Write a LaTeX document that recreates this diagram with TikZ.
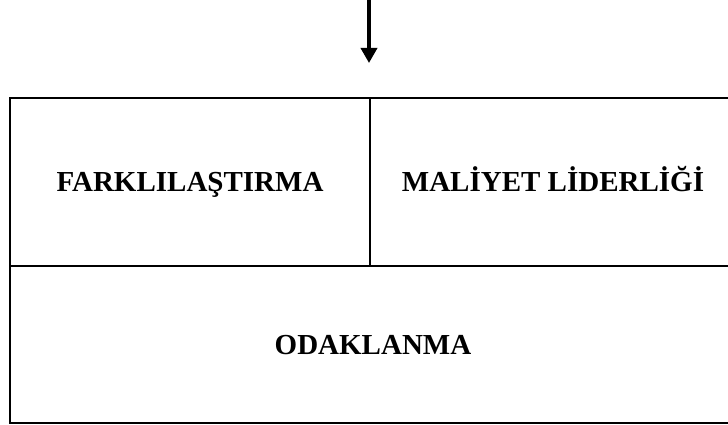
\documentclass[tikz,border=0pt]{standalone}
\usepackage{fontspec}
\setmainfont{Liberation Serif}
\usetikzlibrary{arrows.meta}
\tikzstyle{arrow} = [line width=3.5pt,-{Triangle[width=16pt,length=15pt]}]
\tikzstyle{cell} = [rectangle, draw=black, line width=2.5pt, inner sep=0pt, outer sep=0pt, text centered, text height=19pt, text depth=0pt, font=\fontsize{29}{34}\selectfont\bfseries]

\begin{document}
\begin{tikzpicture}[x=1pt,y=-1pt]
\useasboundingbox (0,0) rectangle (728,425);
\clip (0,0) rectangle (728,425);
\node (diff) [cell, anchor=north west, minimum width=360pt, minimum height=168pt] at (10,98) {FARKLILAŞTIRMA};
\node (cost) [cell, anchor=west, minimum width=366pt, minimum height=168pt] at (diff.east) {MALİYET LİDERLİĞİ};
\node (focus) [cell, anchor=north west, minimum width=726pt, minimum height=157pt] at (diff.south west) {ODAKLANMA};
\coordinate (tip) at ([xshift=-1pt,yshift=35pt]diff.north east);
\coordinate (top) at (tip |- 0,-2);
\draw [arrow] (top) -- (tip);
\end{tikzpicture}
\end{document}
